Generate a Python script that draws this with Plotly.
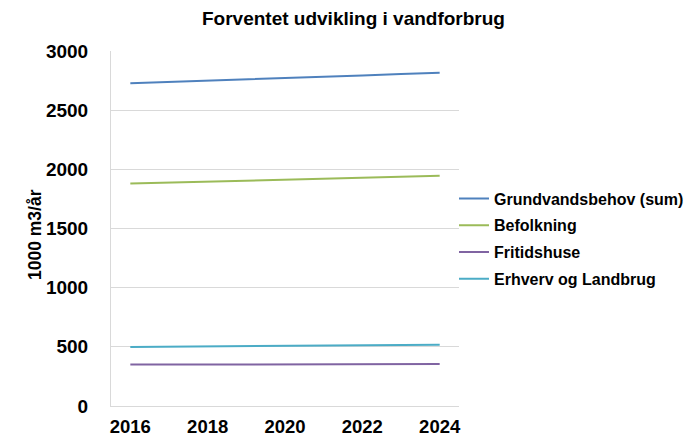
import plotly.graph_objects as go

years = ["2016", "2017", "2018", "2019", "2020", "2021", "2022", "2023", "2024"]
tick_years = ["2016", "2018", "2020", "2022", "2024"]

grundvand = [2728, 2738, 2750, 2761, 2772, 2783, 2794, 2805, 2817]
befolkning = [1880, 1888, 1896, 1904, 1912, 1920, 1928, 1936, 1945]
fritidshuse = [350, 350, 351, 351, 352, 352, 353, 353, 354]
erhverv = [498, 500, 503, 506, 508, 511, 513, 516, 518]

series_names = ["Grundvandsbehov (sum)", "Befolkning", "Fritidshuse", "Erhverv og Landbrug"]
series_values = [grundvand, befolkning, fritidshuse, erhverv]
colors = ["#4f81bd", "#9bbb59", "#8064a2", "#4bacc6"]

FONT = "Liberation Sans, Arial, sans-serif"

L, R, T, B = 111, 235, 51, 34
W, H = 694, 440
pw, ph = W - L - R, H - T - B

fig = go.Figure()
for name, vals, col in zip(series_names, series_values, colors):
    fig.add_trace(go.Scatter(x=years, y=vals, name=name, mode="lines", legendgroup=name,
                             line=dict(color=col, width=2)))

fig.update_layout(
    width=W, height=H, autosize=False,
    margin=dict(l=L, r=R, t=T, b=B, autoexpand=False),
    paper_bgcolor="white", plot_bgcolor="white",
    font=dict(family=FONT, color="black"),
    legend=dict(x=(454 - L) / pw, xanchor="left", y=(H - B - 239) / ph, yanchor="middle",
                font=dict(family=FONT, size=16, weight="bold", color="black"),
                tracegroupgap=3, bgcolor="rgba(0,0,0,0)"),
    showlegend=True,
)
fig.update_xaxes(type="category", tickmode="array", tickvals=tick_years, ticktext=tick_years,
                 range=[-0.5, 8.5], automargin=False,
                 showgrid=False, showline=True, linecolor="#d9d9d9", linewidth=1,
                 ticks="", ticklabelstandoff=4,
                 tickfont=dict(family=FONT, size=18.5, weight="bold", color="black"),
                 zeroline=False)
fig.update_yaxes(range=[0, 3000], tickvals=[0, 500, 1000, 1500, 2000, 2500, 3000],
                 automargin=False,
                 showgrid=True, gridcolor="#d9d9d9", gridwidth=1,
                 showline=True, linecolor="#d9d9d9", linewidth=1, mirror=False,
                 ticks="", ticklabelstandoff=18,
                 tickfont=dict(family=FONT, size=19, weight="bold", color="black"),
                 zeroline=False)
fig.add_annotation(text="Forventet udvikling i vandforbrug", xref="paper", yref="paper",
                   x=(353 - L) / pw, y=(H - B - 19) / ph, xanchor="center", yanchor="middle",
                   showarrow=False,
                   font=dict(family=FONT, size=19, weight="bold", color="black"))
fig.add_annotation(text="1000 m3/år", xref="paper", yref="paper",
                   x=(35 - L) / pw, y=(H - B - 235) / ph, xanchor="center", yanchor="middle",
                   textangle=-90, showarrow=False,
                   font=dict(family=FONT, size=17.5, weight="bold", color="black"))

fig.write_html("out.html", config={"displayModeBar": False},
               post_script="document.body.style.margin='0px';")
